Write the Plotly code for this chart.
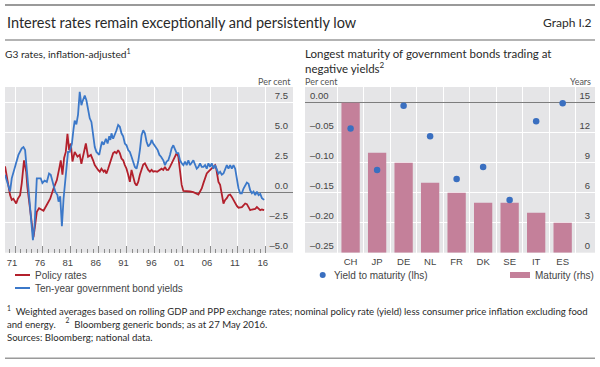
import plotly.graph_objects as go

# ---------------- Left panel: G3 rates, inflation-adjusted (per cent) ----------------
policy_years = [1969.2, 1969.6, 1970.1, 1970.4, 1970.7, 1971.2, 1971.5, 1971.9, 1972.2, 1972.6,
                1973.0, 1973.2, 1973.7, 1974.1, 1974.3, 1974.6, 1974.9, 1975.3, 1975.8, 1976.1,
                1976.7, 1977.3, 1977.9, 1978.5, 1979.0, 1979.2, 1979.5, 1979.8, 1980.1, 1980.4,
                1980.7, 1981.0, 1981.3, 1981.7, 1982.2, 1982.6, 1982.9, 1983.3, 1983.7, 1984.1,
                1984.6, 1985.0, 1985.3, 1985.9, 1986.2, 1986.5, 1986.9, 1987.1, 1987.4, 1987.7,
                1988.0, 1988.3, 1988.6, 1988.9, 1989.2, 1989.5, 1989.8, 1990.1, 1990.4, 1990.7,
                1991.0, 1991.3, 1991.6, 1991.9, 1992.2, 1992.5, 1992.8, 1993.1, 1993.4, 1993.7,
                1994.0, 1994.3, 1994.6, 1994.9, 1995.2, 1995.5, 1995.8, 1996.1, 1996.5, 1996.9,
                1997.3, 1997.6, 1997.9, 1998.2, 1998.5, 1998.8, 1999.1, 1999.4, 1999.7, 2000.0,
                2000.3, 2000.6, 2000.9, 2001.2, 2001.6, 2002.0, 2002.4, 2003.0, 2003.6, 2003.9,
                2004.2, 2004.5, 2004.8, 2005.1, 2005.4, 2005.7, 2006.0, 2006.3, 2006.6, 2006.9,
                2007.1, 2007.3, 2007.5, 2007.8, 2008.1, 2008.4, 2008.7, 2009.0, 2009.3, 2009.6,
                2009.9, 2010.2, 2010.5, 2010.8, 2011.1, 2011.4, 2011.7, 2012.0, 2012.3, 2012.6,
                2012.9, 2013.2, 2013.5, 2013.8, 2014.1, 2014.4, 2014.7, 2015.0, 2015.3, 2015.7]
policy_rates = [2.2, 1.0, -0.2, -0.6, -0.5, -0.9, -0.5, -0.2, 0.8, 2.7,
                1.75, 0.5, -1.6, -3.4, -3.7, -2.7, -1.6, -1.3, -1.45, -1.5,
                -1.0, -0.5, 0.35, 1.05, 2.2, 2.7, 1.5, 2.9, 3.4, 4.9,
                3.55, 4.1, 2.6, 3.4, 3.0, 3.15, 2.4, 3.2, 4.1, 3.0,
                3.15, 2.7, 2.3, 1.9, 1.75, 2.0, 1.75, 1.9, 1.6, 2.0,
                2.45, 2.85, 3.3, 3.4, 3.3, 3.55, 3.3, 2.85, 2.7, 2.3,
                2.0, 1.5, 0.9, 1.9, 1.2, 0.8, 0.6, 0.9, 1.5, 2.0,
                2.35, 2.45, 2.15, 1.9, 1.75, 1.9, 1.75, 1.8, 1.75, 1.9,
                2.0, 1.9, 2.15, 1.9, 1.9, 2.15, 2.45, 2.7, 3.0, 3.3,
                3.0, 1.6, 0.65, 0.15, 0.15, 0.1, 0.1, 0.05, -0.05, -0.15,
                0.1, 0.35, 0.8, 1.2, 1.6, 1.75, 1.9, 2.0, 2.15, 2.3,
                2.0, 1.35, 0.9, 0.65, -0.2, -0.9, -0.6, -0.45, -0.2, -0.15,
                -0.35, -0.6, -0.9, -1.1, -1.25, -1.2, -1.2, -1.05, -0.9, -0.95,
                -1.2, -1.45, -1.4, -1.35, -1.35, -1.2, -1.35, -1.45, -1.4, -1.45]

bond_years = [1969.2, 1970.1, 1970.4, 1971.0, 1971.6, 1972.2, 1972.5, 1972.8, 1973.1, 1973.4,
              1973.7, 1974.0, 1974.2, 1974.5, 1974.9, 1975.2, 1975.6, 1975.9, 1976.3, 1976.7,
              1977.1, 1977.4, 1977.9, 1978.2, 1978.6, 1978.8, 1979.1, 1979.4, 1979.7, 1980.0,
              1980.3, 1980.5, 1980.8, 1981.2, 1981.5, 1981.7, 1982.0, 1982.3, 1982.6, 1982.9,
              1983.1, 1983.5, 1983.8, 1984.1, 1984.4, 1984.7, 1985.0, 1985.3, 1985.6, 1986.1,
              1986.4, 1986.6, 1986.9, 1987.3, 1987.6, 1987.9, 1988.1, 1988.3, 1988.6, 1988.9,
              1989.2, 1989.5, 1989.8, 1990.1, 1990.4, 1990.7, 1991.0, 1991.3, 1991.6, 1991.9,
              1992.2, 1992.5, 1992.8, 1993.1, 1993.4, 1993.7, 1994.0, 1994.3, 1994.6, 1994.9,
              1995.3, 1995.5, 1995.8, 1996.1, 1996.6, 1996.9, 1997.2, 1997.6, 1997.9, 1998.2,
              1998.5, 1998.8, 1999.1, 1999.4, 1999.7, 2000.0, 2000.3, 2000.6, 2000.9, 2001.2,
              2001.5, 2001.8, 2002.1, 2002.4, 2003.0, 2003.3, 2003.6, 2003.9, 2004.2, 2004.5,
              2004.8, 2005.1, 2005.4, 2005.7, 2006.0, 2006.3, 2006.6, 2006.9, 2007.2, 2007.5,
              2007.8, 2008.1, 2008.4, 2008.7, 2009.0, 2009.3, 2009.6, 2009.9, 2010.2, 2010.5,
              2010.8, 2011.1, 2011.4, 2011.7, 2012.0, 2012.3, 2012.6, 2012.9, 2013.2, 2013.5,
              2013.8, 2014.1, 2014.4, 2014.7, 2015.0, 2015.3, 2015.7]
bond_yields = [1.5, 0.1, 1.2, 2.3, 3.15, 3.7, 3.8, 3.55, 1.9, 0.1,
               -1.2, -3.0, -3.95, -2.7, 1.2, 1.2, 1.2, 0.8, 1.0, 0.9,
               1.6, 1.5, 0.65, 0.1, -0.2, -0.75, -0.3, -2.8, -0.5, 1.2,
               2.6, 3.4, 3.4, 4.1, 5.35, 6.0, 5.7, 6.5, 8.4, 7.3,
               7.6, 8.1, 7.7, 6.9, 6.2, 5.9, 4.8, 3.8, 3.4, 3.15,
               3.85, 4.25, 4.0, 4.5, 4.1, 4.7, 4.4, 4.95, 4.5, 4.8,
               5.2, 5.65, 5.5, 4.95, 4.7, 4.1, 3.95, 3.55, 3.4, 3.0,
               2.6, 2.15, 2.0, 2.6, 3.55, 4.8, 5.2, 4.95, 4.25, 3.85,
               4.1, 4.4, 4.1, 3.85, 3.55, 3.15, 3.0, 2.7, 2.3, 2.6,
               2.7, 3.15, 3.7, 3.95, 3.55, 3.3, 3.3, 2.7, 2.45, 2.3,
               2.6, 2.3, 2.7, 2.3, 2.7, 2.3, 2.0, 2.15, 2.45, 2.15,
               2.15, 2.3, 2.0, 2.45, 2.15, 2.45, 2.0, 2.3, 1.9, 1.6,
               1.75, 1.5, 1.6, 2.0, 2.3, 2.0, 2.3, 2.0, 2.3, 2.0,
               1.05, 0.35, -0.05, -0.05, 0.35, 0.65, 0.85, 0.75, 0.2, -0.05,
               0.1, -0.2, 0.1, -0.2, -0.1, -0.45, -0.6]

year_ticks = [1971, 1976, 1981, 1986, 1991, 1996, 2001, 2006, 2011, 2016]
year_labels = ["71", "76", "81", "86", "91", "96", "01", "06", "11", "16"]
left_y_ticks = [-5, -2.5, 0, 2.5, 5, 7.5]
left_y_labels = ["\u20135.0", "\u20132.5", "0.0", "2.5", "5.0", "7.5"]
left_series_names = ["Policy rates", "Ten-year government bond yields"]

# ---------------- Right panel: longest maturity trading at negative yields ----------------
countries = ["CH", "JP", "DE", "NL", "FR", "DK", "SE", "IT", "ES"]
yield_to_maturity = [-0.043, -0.112, -0.005, -0.056, -0.127, -0.107, -0.162, -0.031, -0.001]
maturity_years = [15, 10, 9, 7, 6, 5, 5, 4, 3]
pct_ticks = [-0.25, -0.20, -0.15, -0.10, -0.05, 0.00]
pct_labels = ["\u20130.25", "\u20130.20", "\u20130.15", "\u20130.10", "\u20130.05", "0.00"]
years_ticks = [0, 3, 6, 9, 12, 15]
right_series_names = ["Yield to maturity (lhs)", "Maturity (rhs)"]

# ---------------- styling ----------------
W, H = 600, 367
RED = "#b3202c"
BLUE = "#3b78c9"
DOT = "#3a6fc0"
PINK = "#c4809a"
BG = "#e5e5e7"
TXT = "#2a2a2a"
AX = "#444444"
TEXT_FONT = "Lato"
CHART_FONT = "Liberation Sans"


def px(x):
    return x / W


def py(y):
    return 1 - y / H


top, bottom = 87, 252.7
ydom = [py(bottom), py(top)]

fig = go.Figure()
fig.add_trace(go.Scatter(x=policy_years, y=policy_rates, mode="lines", name=left_series_names[0],
                         line=dict(color=RED, width=1.8), xaxis="x", yaxis="y", showlegend=False))
fig.add_trace(go.Scatter(x=bond_years, y=bond_yields, mode="lines", name=left_series_names[1],
                         line=dict(color=BLUE, width=1.8), xaxis="x", yaxis="y", showlegend=False))
fig.add_trace(go.Bar(x=countries, y=maturity_years, name=right_series_names[1],
                     marker=dict(color=PINK, line=dict(width=0)),
                     width=0.69, xaxis="x2", yaxis="y2", showlegend=False))
fig.add_trace(go.Scatter(x=countries, y=yield_to_maturity, mode="markers", name=right_series_names[0],
                         marker=dict(size=6.5, color=DOT), xaxis="x2", yaxis="y3", showlegend=False))

tickfont = dict(family=CHART_FONT, size=9.5, color=AX)

fig.update_layout(
    width=W, height=H,
    margin=dict(l=0, r=0, t=0, b=0),
    paper_bgcolor="white", plot_bgcolor=BG,
    showlegend=False,
    xaxis=dict(domain=[px(5), px(293)], anchor="y", range=[1969.19, 2020.88],
               tickmode="array", tickvals=year_ticks, ticktext=year_labels,
               showgrid=True, gridcolor="white", gridwidth=1, zeroline=False, showline=False,
               ticks="inside", ticklen=7, tickwidth=1, tickcolor="#8c8c8c",
               minor=dict(tickmode="linear", tick0=1970, dtick=1, ticks="inside", ticklen=4,
                          tickwidth=1, tickcolor="#8c8c8c", showgrid=False),
               ticklabelshift=-3, ticklabelstandoff=3, tickfont=tickfont),
    yaxis=dict(domain=ydom, anchor="x", side="right", range=[-5, 8.81],
               tickmode="array", tickvals=left_y_ticks, ticktext=left_y_labels,
               ticklabelposition="inside top", ticklabelstandoff=2,
               showgrid=True, gridcolor="white", gridwidth=1, ticks="",
               zeroline=True, zerolinecolor="#7d7d7d", zerolinewidth=1.5, showline=False,
               tickfont=tickfont),
    xaxis2=dict(domain=[px(305), px(595)], anchor="y2", type="category",
                categoryorder="array", categoryarray=countries, range=[-1.72, 9.22],
                tickson="boundaries", showgrid=True, gridcolor="white", gridwidth=1,
                ticks="", zeroline=False, showline=False, ticklabelstandoff=2, tickfont=tickfont),
    yaxis2=dict(domain=ydom, anchor="x2", side="right", range=[0, 16.57],
                tickmode="array", tickvals=years_ticks,
                ticklabelposition="inside top", ticklabelstandoff=2,
                showgrid=True, gridcolor="white", gridwidth=1, ticks="", zeroline=False,
                showline=False, tickfont=tickfont),
    yaxis3=dict(overlaying="y2", anchor="x2", side="left", range=[-0.25, 0.0262],
                tickmode="array", tickvals=pct_ticks, ticktext=pct_labels,
                ticklabelposition="inside top", ticklabelstandoff=2,
                showgrid=False, ticks="", zeroline=True, zerolinecolor="#7d7d7d", zerolinewidth=1.5,
                showline=False, tickfont=tickfont),
)

ann = []


def text(x, y, s, size, anchor="left", family=TEXT_FONT, color=TXT, yanchor="middle"):
    ann.append(dict(x=px(x), y=py(y), xref="paper", yref="paper", text=s, showarrow=False,
                    xanchor=anchor, yanchor=yanchor, align=anchor if anchor != "center" else "center",
                    font=dict(family=family, size=size, color=color)))


text(5, 22.7, "Interest rates remain exceptionally and persistently low", 14.5)
text(594, 22.7, "Graph I.2", 12, anchor="right")
text(3, 53.3, "G3 rates, inflation-adjusted<sup>1</sup>", 10.2)
text(303, 45, "Longest maturity of government bonds trading at<br>negative yields<sup>2</sup>", 11.5,
     yanchor="top")
text(293, 81, "Per cent", 9, anchor="right", color="#555555")
text(303, 81, "Per cent", 9, color="#555555")
text(593, 81, "Years", 9, anchor="right", color="#555555")

# legends
text(33, 275, left_series_names[0], 10, family=CHART_FONT, color=AX)
text(33, 288, left_series_names[1], 10, family=CHART_FONT, color=AX)
text(332, 275, right_series_names[0], 10, family=CHART_FONT, color=AX)
text(533, 275, right_series_names[1], 10, family=CHART_FONT, color=AX)

# footnotes
text(5, 317.4, "<sup>1</sup>  Weighted averages based on rolling GDP and PPP exchange rates; nominal policy rate (yield) "
               "less consumer price inflation excluding food<br>"
               "and energy.    <sup>2</sup>  Bloomberg generic bonds; as at 27 May 2016.", 9.6)
text(5, 337.5, "Sources: Bloomberg; national data.", 9.6)

fig.update_layout(annotations=ann)

shapes = [
    dict(type="line", xref="paper", yref="paper", x0=px(5), x1=px(595), y0=py(5), y1=py(5),
         line=dict(color="#9a9a9a", width=2)),
    dict(type="line", xref="paper", yref="paper", x0=px(5), x1=px(595), y0=py(40), y1=py(40),
         line=dict(color="#9a9a9a", width=1.5)),
    dict(type="line", xref="paper", yref="paper", x0=px(5), x1=px(595), y0=py(358.3), y1=py(358.3),
         line=dict(color="#9a9a9a", width=1.5)),
    # legend keys
    dict(type="line", xref="paper", yref="paper", x0=px(15), x1=px(30), y0=py(275), y1=py(275),
         line=dict(color=RED, width=2)),
    dict(type="line", xref="paper", yref="paper", x0=px(15), x1=px(30), y0=py(288), y1=py(288),
         line=dict(color=BLUE, width=2)),
    dict(type="circle", xref="paper", yref="paper", x0=px(319.7), x1=px(325.7), y0=py(278), y1=py(272),
         fillcolor=DOT, line=dict(width=0)),
    dict(type="rect", xref="paper", yref="paper", x0=px(510), x1=px(530), y0=py(278), y1=py(272),
         fillcolor=PINK, line=dict(width=0)),
]
fig.update_layout(shapes=shapes)

fig.write_html("out.html", config={"displayModeBar": False, "staticPlot": True},
               post_script="document.body.style.margin='0px';")
